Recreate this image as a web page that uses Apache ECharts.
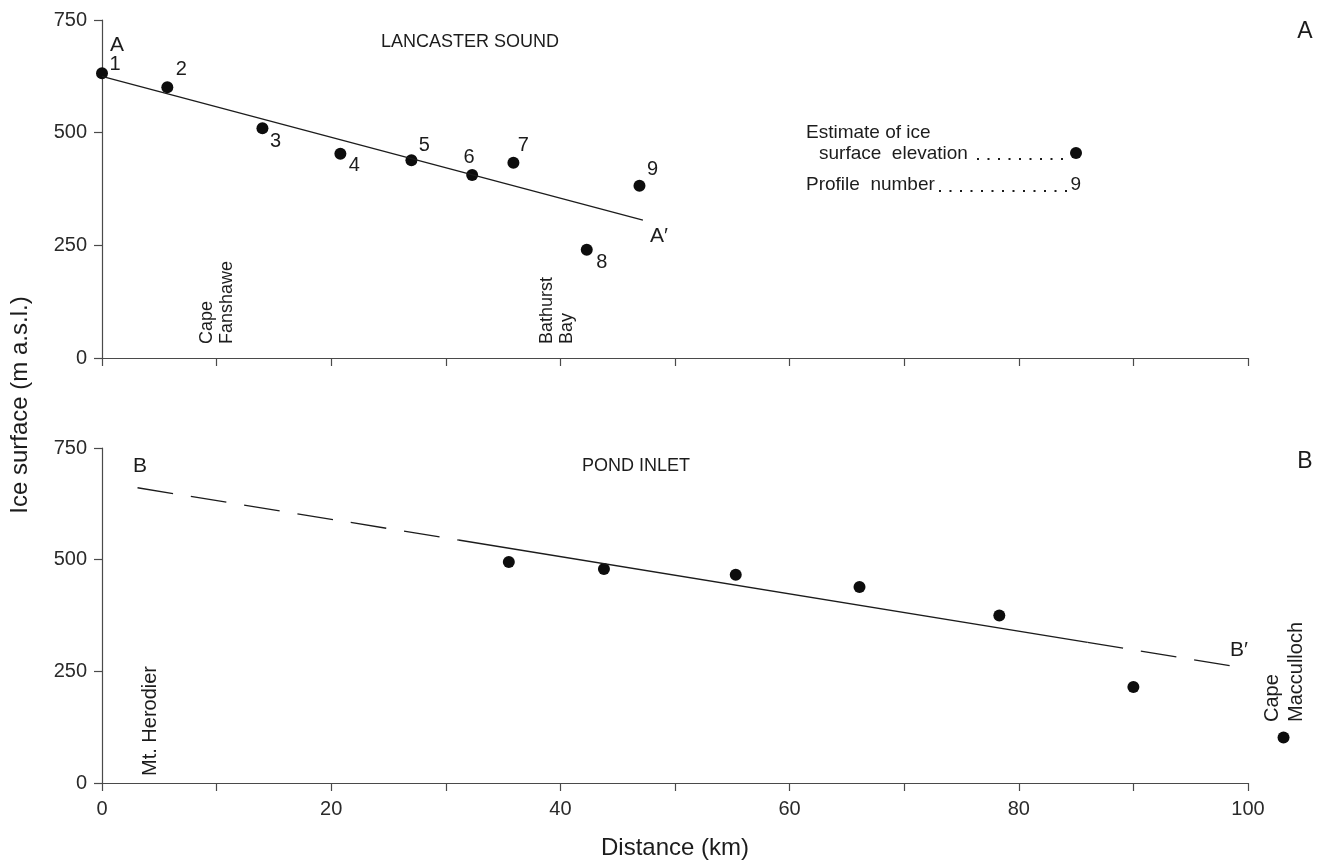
<!DOCTYPE html>
<html><head><meta charset="utf-8">
<script src="https://cdn.jsdelivr.net/npm/echarts@6/dist/echarts.min.js"></script>
<style>html,body{margin:0;padding:0;background:#fff}#c{width:1320px;height:861px}</style>
</head><body><div id="c"></div>
<script>
// ---------- DATA ----------
const distanceTickLabels = [0, 20, 40, 60, 80, 100];
const elevationTickLabels = [0, 250, 500, 750];

// Panel A: Lancaster Sound
const lancasterProfile   = [1, 2, 3, 4, 5, 6, 7, 8, 9];
const lancasterDistance  = [0, 5.7, 14.0, 20.8, 27.0, 32.3, 35.9, 42.3, 46.9];
const lancasterElevation = [632, 601, 510, 453, 439, 406, 433, 240, 382];
const lancasterTrendDistance  = [0, 47.2];
const lancasterTrendElevation = [625, 306];

// Panel B: Pond Inlet
const pondDistance  = [35.5, 43.8, 55.3, 66.1, 78.3, 90.0];
const pondElevation = [495, 479, 466, 439, 375, 215];
// trend: dashed, solid, dashed segments
const pondTrendDistance  = [3.1, 31.1, 86.0, 99.0];
const pondTrendElevation = [661, 544, 315, 260];
const capeMaccullochDistance  = [103.1];
const capeMaccullochElevation = [102];

// ---------- CHART ----------
const FONT = '"Liberation Sans", Arial, Helvetica, sans-serif';
const INK = '#1c1c1c';
const AX = '#4a4a4a';
const chart = echarts.init(document.getElementById('c'));

function zip(a, b) { return a.map((v, i) => [v, b[i]]); }

const labelOffsets = [[13,-9],[14,-18],[13,13],[14,12],[13,-15],[-3,-18],[10,-17],[15,13],[13,-16]];

function xAx(grid, showLabels) {
  return {
    gridIndex: grid, type: 'value', min: 0, max: 100, interval: 10,
    axisLine: { onZero: false, lineStyle: { color: AX, width: 1.2 } },
    axisTick: { length: 8, lineStyle: { color: AX, width: 1.2 } },
    splitLine: { show: false },
    axisLabel: showLabels ? {
      margin: 16, fontSize: 20, color: '#2a2a2a', fontFamily: FONT,
      formatter: v => distanceTickLabels.includes(v) ? String(v) : ''
    } : { show: false },
    name: showLabels ? 'Distance (km)' : '',
    nameLocation: 'middle', nameGap: 53,
    nameTextStyle: { fontSize: 24, color: INK, fontFamily: FONT }
  };
}
function yAx(grid) {
  return {
    gridIndex: grid, type: 'value', min: 0, max: 750, interval: 250,
    axisLine: { show: true, onZero: false, lineStyle: { color: AX, width: 1.2 } },
    axisTick: { show: true, length: 8, lineStyle: { color: AX, width: 1.2 } },
    splitLine: { show: false },
    axisLabel: { margin: 15, fontSize: 20, color: '#2a2a2a', fontFamily: FONT,
      formatter: v => elevationTickLabels.includes(v) ? String(v) : '' }
  };
}

const lineStyleBase = { color: INK, width: 1.3 };
const pondSegs = [0, 1, 2].map(i => ({
  type: 'line', xAxisIndex: 1, yAxisIndex: 1, symbol: 'none', silent: true,
  data: [[pondTrendDistance[i], pondTrendElevation[i]], [pondTrendDistance[i+1], pondTrendElevation[i+1]]],
  lineStyle: Object.assign({}, lineStyleBase, { type: i === 1 ? 'solid' : [36, 18] })
}));
const dotStyle = { color: '#0d0d0d', opacity: 1 };

const option = {
  animation: false,
  backgroundColor: '#fff',
  grid: [
    { left: 102, top: 20, width: 1146, height: 338 },
    { left: 102, top: 448, width: 1146, height: 338 }
  ],
  xAxis: [xAx(0, false), xAx(1, true)],
  yAxis: [yAx(0), yAx(1)],
  series: [
    { type: 'line', xAxisIndex: 0, yAxisIndex: 0, symbol: 'none', silent: true,
      data: zip(lancasterTrendDistance, lancasterTrendElevation), lineStyle: lineStyleBase },
    { type: 'scatter', xAxisIndex: 0, yAxisIndex: 0, symbolSize: 12, clip: false,
      itemStyle: dotStyle,
      data: lancasterDistance.map((d, i) => ({
        value: [d, lancasterElevation[i]],
        label: { show: true, position: 'inside', offset: labelOffsets[i],
          formatter: String(lancasterProfile[i]), fontSize: 20, color: INK, fontFamily: FONT }
      })) },
    ...pondSegs,
    { type: 'scatter', xAxisIndex: 1, yAxisIndex: 1, symbolSize: 12, clip: false,
      itemStyle: dotStyle, data: zip(pondDistance, pondElevation) },
    { type: 'scatter', xAxisIndex: 1, yAxisIndex: 1, symbolSize: 12, clip: false,
      itemStyle: dotStyle, data: zip(capeMaccullochDistance, capeMaccullochElevation) }
  ]
};
chart.setOption(option);

// ---------- TEXT ANNOTATIONS ----------
function txt(x, y, text, size, opts) {
  return Object.assign({ type: 'text', x: x, y: y, silent: true,
    style: Object.assign({ text: text, font: size + 'px ' + FONT, fill: INK,
      textAlign: 'left', textVerticalAlign: 'middle' }, (opts && opts.style) || {}) },
    opts && opts.rotation ? { rotation: opts.rotation } : {});
}
const V = Math.PI / 2;
const g = [
  txt(20, 405, 'Ice surface (m a.s.l.)', 24, { rotation: V, style: { textAlign: 'center' } }),
  txt(1305, 32, 'A', 23, { style: { textAlign: 'center' } }),
  txt(1305, 462, 'B', 23, { style: { textAlign: 'center' } }),
  txt(110, 45, 'A', 21),
  txt(133, 466, 'B', 21),
  txt(650, 236, 'A\u2032', 21),
  txt(1230, 650, 'B\u2032', 21),
  txt(470, 42, 'LANCASTER SOUND', 18, { style: { textAlign: 'center' } }),
  txt(582, 466, 'POND INLET', 18),
  txt(197, 344, 'Cape\nFanshawe', 18, { rotation: V, style: { textVerticalAlign: 'top', lineHeight: 20 } }),
  txt(537, 344, 'Bathurst\nBay', 18, { rotation: V, style: { textVerticalAlign: 'top', lineHeight: 20 } }),
  txt(140, 776, 'Mt. Herodier', 20, { rotation: V, style: { textVerticalAlign: 'top' } }),
  txt(1260, 722, 'Cape\nMacculloch', 20, { rotation: V, style: { textVerticalAlign: 'top', lineHeight: 24 } }),
  txt(806, 133, 'Estimate of ice', 19),
  txt(819, 154, 'surface  elevation', 19),
  txt(806, 185, 'Profile  number', 19),
  { type: 'line', silent: true, shape: { x1: 977, y1: 159, x2: 1066, y2: 159 },
    style: { stroke: INK, lineWidth: 2, lineDash: [2, 8.5] } },
  { type: 'line', silent: true, shape: { x1: 939, y1: 191, x2: 1068, y2: 191 },
    style: { stroke: INK, lineWidth: 2, lineDash: [2, 8.5] } },
  { type: 'circle', silent: true, shape: { cx: 1076, cy: 153, r: 6 }, style: { fill: '#0d0d0d' } },
  txt(1081, 185, '9', 19, { style: { textAlign: 'right' } })
];
chart.setOption({ graphic: g });
</script></body></html>
